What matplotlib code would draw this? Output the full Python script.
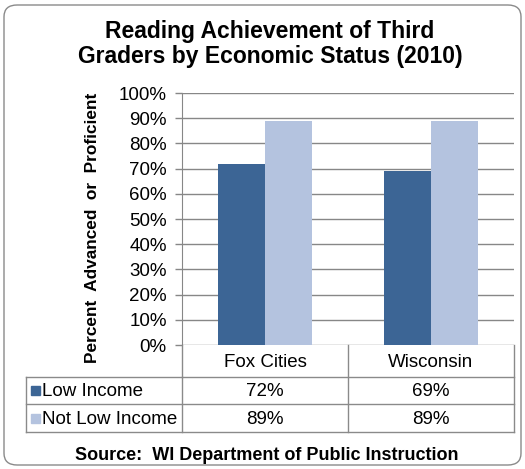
import matplotlib.pyplot as plt
from matplotlib.patches import FancyBboxPatch, Rectangle
import numpy as np

plt.rcParams['font.family'] = ['Liberation Sans', 'DejaVu Sans']

categories = ['Fox Cities', 'Wisconsin']
series_names = ['Low Income', 'Not Low Income']
low_income = [72, 69]
not_low_income = [89, 89]
colors = ['#3C6595', '#B4C3DF']
yticks = [0, 10, 20, 30, 40, 50, 60, 70, 80, 90, 100]

W, H = 525, 469
fig = plt.figure(figsize=(W / 100, H / 100), dpi=100)

def fx(px):
    return px / W

def fy(py):
    return 1 - py / H

# rounded outer border
fig.patches.append(FancyBboxPatch((fx(4), fy(465)), fx(517), (465 - 5) / H,
                                  boxstyle='round,pad=0,rounding_size=0.025',
                                  transform=fig.transFigure, facecolor='none',
                                  edgecolor='#8a8a8a', linewidth=1, zorder=-1))

ax_l, ax_r, ax_t, ax_b = 182, 514, 93, 345
ax = fig.add_axes([fx(ax_l), fy(ax_b), fx(ax_r - ax_l), (ax_b - ax_t) / H])
ax.patch.set_alpha(0)

x = np.arange(len(categories))
bw = 0.283
ax.bar(x - bw / 2, low_income, bw, color=colors[0], zorder=3)
ax.bar(x + bw / 2, not_low_income, bw, color=colors[1], zorder=3)

ax.set_xlim(-0.5, len(categories) - 0.5)
ax.set_ylim(0, 100)
ax.set_yticks(yticks)
ax.set_yticklabels([f'{v}%' for v in yticks], fontsize=13.5)
ax.yaxis.grid(True, color='#878787', linewidth=1)
ax.set_axisbelow(True)
ax.set_xticks([])
for s in ['top', 'right', 'bottom']:
    ax.spines[s].set_visible(False)
ax.spines['left'].set_color('#878787')
ax.tick_params(axis='y', length=5, width=1, color='#878787', pad=6)

# data table below the axes
lc = '#8a8a8a'
row_px = [345, 377, 404, 432]
col_px = [182, 348, 514]
left_px = 26

def hline(y, x0, x1):
    fig.add_artist(plt.Line2D([fx(x0), fx(x1)], [fy(y), fy(y)], color=lc, lw=1, transform=fig.transFigure))

def vline(xp, y0, y1):
    fig.add_artist(plt.Line2D([fx(xp), fx(xp)], [fy(y0), fy(y1)], color=lc, lw=1, transform=fig.transFigure))

hline(row_px[1], col_px[0], col_px[2])
hline(row_px[1], left_px, col_px[0])
hline(row_px[2], left_px, col_px[2])
hline(row_px[3], left_px, col_px[2])
vline(left_px, row_px[1], row_px[3])
for c in col_px:
    vline(c, row_px[0], row_px[3])

for i, cat in enumerate(categories):
    cx = (col_px[i] + col_px[i + 1]) / 2
    fig.text(fx(cx), fy((row_px[0] + row_px[1]) / 2 + 1), cat, ha='center', va='center', fontsize=13.5)
    for j, vals in enumerate([low_income, not_low_income]):
        cy = (row_px[j + 1] + row_px[j + 2]) / 2 + 1
        fig.text(fx(cx), fy(cy), f'{vals[i]}%', ha='center', va='center', fontsize=13.5)

for j, name in enumerate(series_names):
    cy = (row_px[j + 1] + row_px[j + 2]) / 2
    fig.patches.append(Rectangle((fx(31), fy(cy + 4.5)), fx(9), 9 / H, color=colors[j],
                                 transform=fig.transFigure))
    fig.text(fx(42), fy(cy + 1), name, ha='left', va='center', fontsize=13.5)

fig.text(fx(270), fy(44), 'Reading Achievement of Third\nGraders by Economic Status (2010)',
         ha='center', va='center', fontsize=16.5, fontweight='bold', linespacing=1.1)
fig.text(fx(93), fy(228), 'Percent  Advanced  or  Proficient', rotation=90,
         ha='center', va='center', fontsize=12.4, fontweight='bold')
fig.text(fx(267), fy(455), 'Source:  WI Department of Public Instruction',
         ha='center', va='center', fontsize=13, fontweight='bold')

fig.savefig('out.png', dpi=100)
